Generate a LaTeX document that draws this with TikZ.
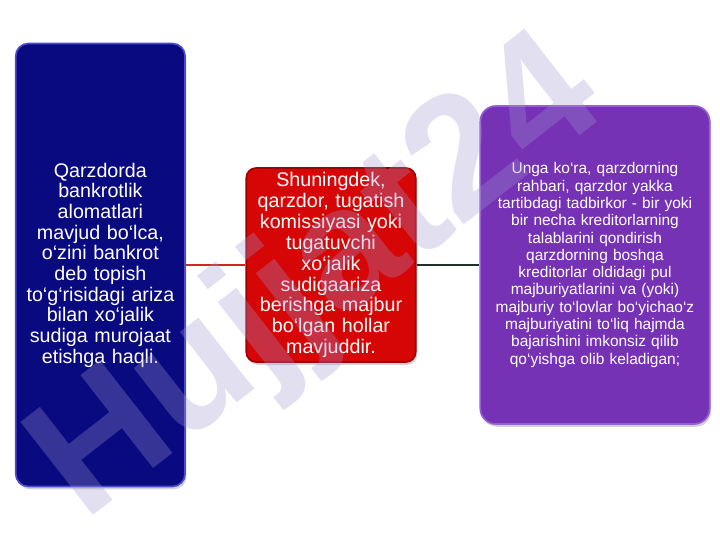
\documentclass[tikz,border=0pt]{standalone}
\usepackage{fontspec}
\setmainfont{Liberation Sans}
\usepackage{tikz}
\usetikzlibrary{shapes.geometric, arrows, positioning, shadows}
\definecolor{navycolor}{RGB}{10, 10, 128}
\definecolor{navyrim}{RGB}{75, 75, 205}
\definecolor{redcolor}{RGB}{214, 6, 6}
\definecolor{redrim}{RGB}{160, 0, 0}
\definecolor{violetcolor}{RGB}{118, 50, 180}
\definecolor{violetrim}{RGB}{150, 95, 212}
\definecolor{markcolor}{RGB}{160, 150, 210}
\tikzstyle{haqbox} = [rectangle, rounded corners=9pt, minimum width=4.125cm, minimum height=11.075cm, text width=4cm, align=center, draw=navyrim, fill=navycolor, line width=1.2pt, text=white, font=\fontsize{14}{14.7}\selectfont, drop shadow={shadow xshift=1pt, shadow yshift=-2pt, opacity=0.35}]
\tikzstyle{majburbox} = [rectangle, rounded corners=7pt, minimum width=4.15cm, minimum height=4.85cm, text width=4cm, inner ysep=0pt, align=center, draw=redrim, fill=redcolor, line width=1.2pt, text=white, font=\fontsize{14}{14.9}\selectfont, drop shadow={shadow xshift=1pt, shadow yshift=-2pt, opacity=0.35}]
\tikzstyle{holatbox} = [rectangle, rounded corners=11pt, minimum width=5.7cm, minimum height=7.95cm, text width=5.5cm, align=center, draw=violetrim, fill=violetcolor, line width=1.2pt, text=white, font=\fontsize{11}{12.3}\selectfont, drop shadow={shadow xshift=1pt, shadow yshift=-2pt, opacity=0.35}]
\tikzstyle{redlink} = [draw={rgb,255:red,200;green,40;blue,40}, line width=0.8pt]
\tikzstyle{darklink} = [draw={rgb,255:red,30;green,50;blue,40}, line width=0.8pt]
\tikzstyle{watermark} = [text=markcolor, opacity=0.3, font=\fontsize{122}{124}\selectfont\bfseries]

\begin{document}
\begin{tikzpicture}

\useasboundingbox (0,0) rectangle (18,13.5);

% Chap blok
\node (haqli) [haqbox] at (2.51,6.875) {Qarzdorda\\bankrotlik\\alomatlari\\mavjud bo‘lca,\\o‘zini bankrot\\deb topish\\to‘g‘risidagi ariza\\bilan xo‘jalik\\sudiga murojaat\\etishga haqli.};

% O'rta blok
\node (majbur) [majburbox] at (8.275,6.875) {Shuningdek,\\qarzdor, tugatish\\komissiyasi yoki\\tugatuvchi\\xo‘jalik\\sudigaariza\\berishga majbur\\bo‘lgan hollar\\mavjuddir.};

% O'ng blok
\node (holat) [holatbox] at (14.875,6.875) {Unga ko‘ra, qarzdorning\\rahbari, qarzdor yakka\\tartibdagi tadbirkor - bir yoki\\bir necha kreditorlarning\\talablarini qondirish\\qarzdorning boshqa\\kreditorlar oldidagi pul\\majburiyatlarini va (yoki)\\majburiy to‘lovlar bo‘yichao‘z\\majburiyatini to‘liq hajmda\\bajarishini imkonsiz qilib\\qo‘yishga olib keladigan;};

% Chiziqlar
\draw [redlink] (haqli.east) -- (majbur.west);
\draw [darklink] (majbur.east) -- (holat.west);

% Filigran
\node (filigran) [watermark, rotate=38] at (8.0,6.45) {Hujjat24};

\end{tikzpicture}
\end{document}
